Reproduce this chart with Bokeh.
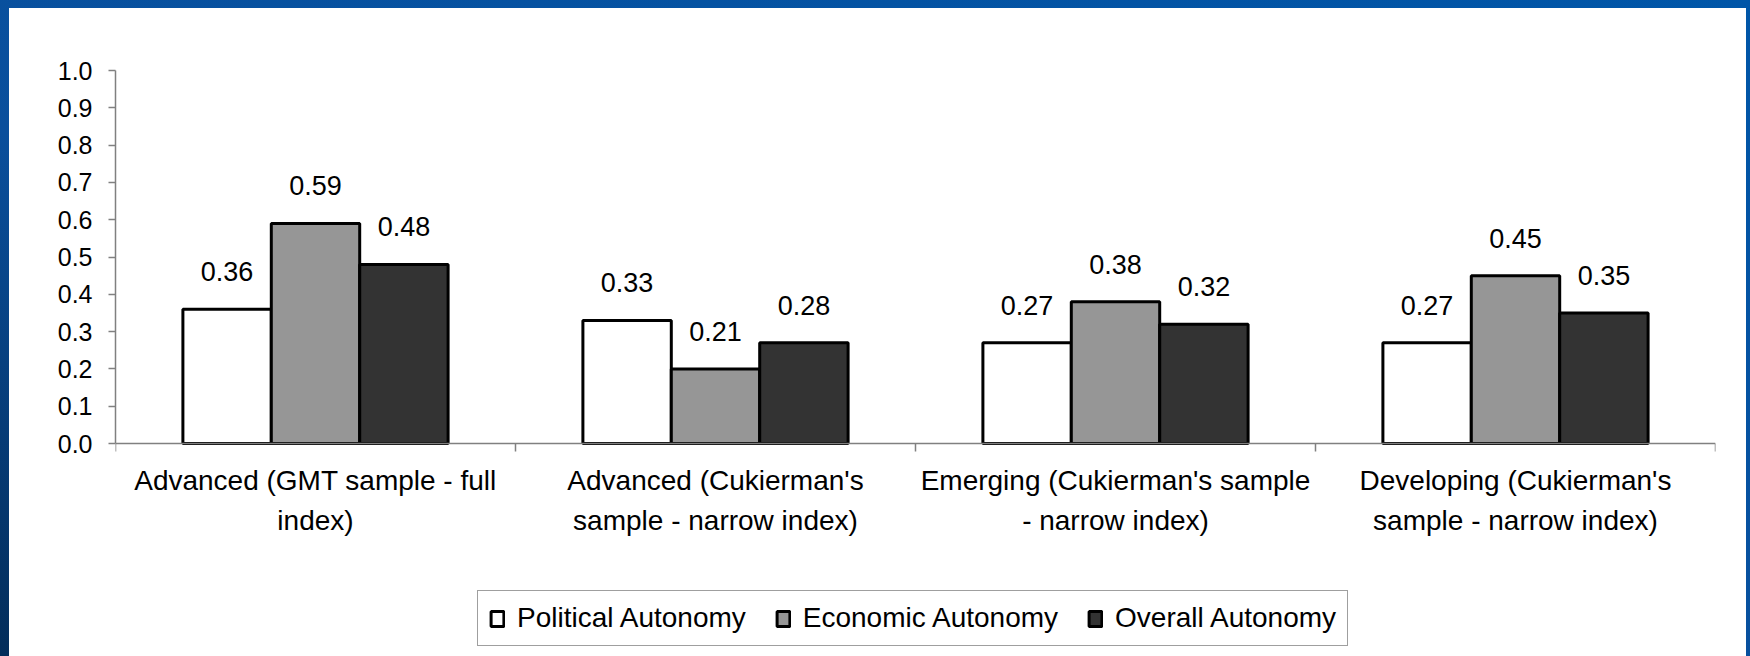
from bokeh.plotting import figure
from bokeh.models import (ColumnDataSource, Range1d, FixedTicker, NumeralTickFormatter,
                          LabelSet, Legend, LegendItem, GlobalInlineStyleSheet)
from bokeh.core.properties import value
from bokeh.embed import file_html
from bokeh.resources import INLINE

# ---------------- data ----------------
categories = [
    "Advanced (GMT sample - full\nindex)",
    "Advanced (Cukierman's\nsample - narrow index)",
    "Emerging (Cukierman's sample\n- narrow index)",
    "Developing (Cukierman's\nsample - narrow index)",
]
series_names = ["Political Autonomy", "Economic Autonomy", "Overall Autonomy"]
political = [0.36, 0.33, 0.27, 0.27]
economic = [0.59, 0.20, 0.38, 0.45]
overall = [0.48, 0.27, 0.32, 0.35]
political_labels = ["0.36", "0.33", "0.27", "0.27"]
economic_labels = ["0.59", "0.21", "0.38", "0.45"]
overall_labels = ["0.48", "0.28", "0.32", "0.35"]
y_ticks = [0.0, 0.1, 0.2, 0.3, 0.4, 0.5, 0.6, 0.7, 0.8, 0.9, 1.0]

# ---------------- style / layout ----------------
FONT = "Liberation Sans"
colors = ["#ffffff", "#969696", "#333333"]
bar_w = 0.221
offsets = [-1, 0, 1]

AXIS_PX = 373        # pixel height of the 0..1 value span
FRAME_H = 586        # frame reaches down to the bottom so the legend sits inside it
Y_MAX = 1.0
y_start = Y_MAX - Y_MAX * FRAME_H / AXIS_PX

page_css = GlobalInlineStyleSheet(css="""
html, body { margin: 0; padding: 0; overflow: hidden; height: 100%;
  background: linear-gradient(to top right, #032d5a 0%, #0a4f9c 40%, #0056a8 100%); }
body { padding: 8px 0 0 9px; box-sizing: border-box; }
""")

p = figure(frame_width=1600, frame_height=FRAME_H,
           x_range=Range1d(0, len(categories)), y_range=Range1d(y_start, Y_MAX),
           output_backend="svg", toolbar_location=None,
           min_border_left=106, min_border_right=31,
           min_border_top=62, min_border_bottom=0)
p.stylesheets = [page_css]
p.styles = {"background-color": "white"}
p.background_fill_color = "white"
p.border_fill_color = "white"
p.outline_line_color = "white"
p.outline_line_width = 2
p.xgrid.visible = False
p.ygrid.visible = False

idx = list(range(len(categories)))
renderers = []
for vals, labs, col, off in zip([political, economic, overall],
                                [political_labels, economic_labels, overall_labels],
                                colors, offsets):
    xs = [i + 0.5 + off * bar_w for i in idx]
    src = ColumnDataSource(dict(x=xs, top=vals, lab=labs))
    r = p.vbar(x="x", top="top", bottom=0, width=bar_w, source=src,
               fill_color=col, line_color="black", line_width=3)
    renderers.append(r)
    ls = LabelSet(x="x", y="top", text="lab", source=src,
                  text_align="center", text_baseline="alphabetic", y_offset=28,
                  text_font=value(FONT), text_font_size="27px", text_color="black")
    p.add_layout(ls)

# x axis, pinned at value 0
xa = p.xaxis[0]
xa.fixed_location = 0
xa.ticker = FixedTicker(ticks=[i + 0.5 for i in idx],
                        minor_ticks=list(range(len(categories) + 1)))
xa.major_label_overrides = {i + 0.5: categories[i] for i in idx}
xa.major_tick_line_color = None
xa.major_tick_out = 0
xa.major_tick_in = 0
xa.minor_tick_line_color = "#808080"
xa.minor_tick_line_width = 1.5
xa.minor_tick_out = 8
xa.minor_tick_in = 0
xa.axis_line_color = "#808080"
xa.axis_line_width = 1.5
xa.major_label_text_font = FONT
xa.major_label_text_font_size = "28px"
xa.major_label_text_color = "black"
xa.major_label_text_line_height = 1.31
xa.major_label_standoff = 13

# y axis
ya = p.yaxis[0]
ya.bounds = (0, Y_MAX)
ya.ticker = FixedTicker(ticks=y_ticks)
ya.formatter = NumeralTickFormatter(format="0.0")
ya.major_tick_line_color = "#808080"
ya.major_tick_line_width = 1.5
ya.major_tick_out = 7
ya.major_tick_in = 0
ya.minor_tick_line_color = None
ya.axis_line_color = "#808080"
ya.axis_line_width = 1.5
ya.major_label_text_font = FONT
ya.major_label_text_font_size = "25px"
ya.major_label_text_color = "black"
ya.major_label_standoff = 16

# legend (inside the frame, below the category labels)
legend = Legend(items=[LegendItem(label=n, renderers=[r]) for n, r in zip(series_names, renderers)],
                orientation="horizontal", location=(362, 10),
                label_text_font=FONT, label_text_font_size="28px", label_text_color="black",
                glyph_width=16, glyph_height=19, label_standoff=12, spacing=29,
                padding=11, margin=0,
                border_line_color="#404040", border_line_width=1.5,
                background_fill_color="white", background_fill_alpha=1.0)
p.add_layout(legend)

open("out.html", "w").write(file_html(p, INLINE))
